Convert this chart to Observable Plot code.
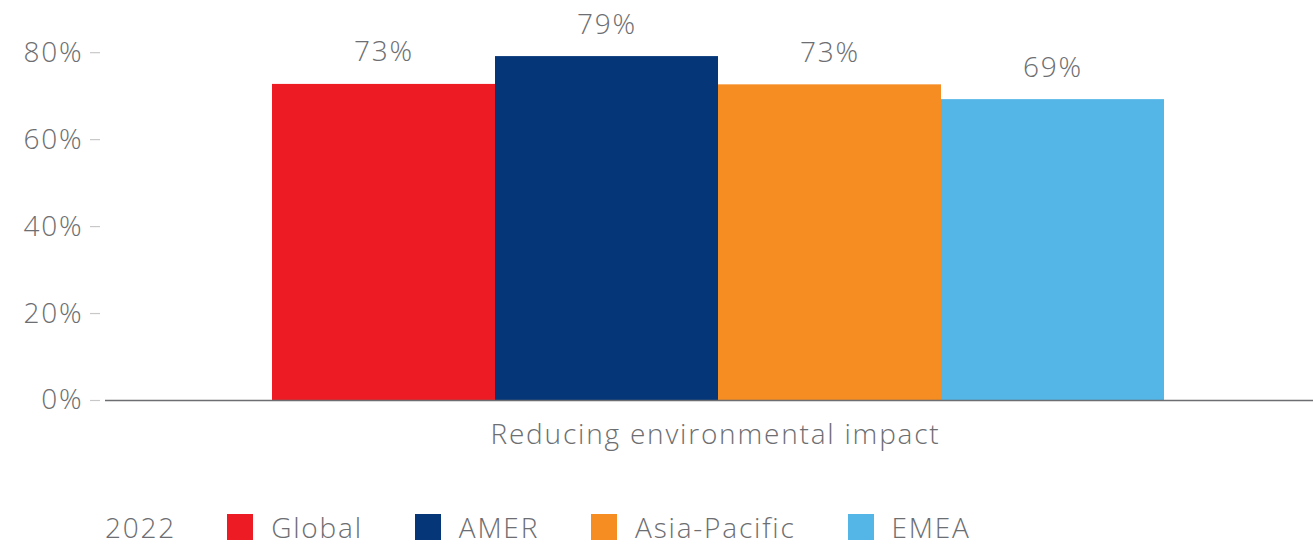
<!DOCTYPE html>
<html>
<head>
<meta charset="utf-8">
<script src="https://cdn.jsdelivr.net/npm/d3@7"></script>
<script src="https://cdn.jsdelivr.net/npm/@observablehq/plot@0.6"></script>
<style>
  html, body { margin: 0; padding: 0; background: #fff; }
  body { width: 1313px; height: 544px; overflow: hidden; font-family: "Open Sans", Lato, sans-serif; color: #6d6e71; }
  #chart svg text { letter-spacing: 1.8px; font-weight: 300; }
  #legend { display: flex; align-items: center; height: 34px; padding-top: 30px; padding-left: 105px; font-size: 28px; font-weight: 300; letter-spacing: 1.8px; color: #6d6e71; }
  #legend .title { margin-right: 51px; }
  #legend .item { display: flex; align-items: center; margin-right: 52px; }
  #legend .sw { width: 26px; height: 26px; margin-right: 18px; }
</style>
</head>
<body>
<div id="chart"></div>
<div id="legend"></div>
<script>
const regions = ["Global", "AMER", "Asia-Pacific", "EMEA"];
const values = [72.7, 79.1, 72.6, 69.2];
const colors = ["#ed1c24", "#053778", "#f58d22", "#53b6e6"];
const category = "Reducing environmental impact";
const yTicks = [0, 20, 40, 60, 80];
const legendTitle = "2022";

const data = regions.map((r, i) => ({region: r, value: values[i]}));
const gray = "#6d6e71";

const chart = Plot.plot({
  width: 1313,
  height: 480,
  marginLeft: 105,
  marginRight: 0,
  marginTop: 0,
  marginBottom: 80,
  style: {fontFamily: "'Open Sans', Lato, sans-serif", fontSize: "28px", color: gray, background: "#fff"},
  x: {domain: regions, paddingInner: 0, paddingOuter: 0.708, align: 0.53, axis: null},
  y: {domain: [0, 92], ticks: yTicks, label: null},
  color: {domain: regions, range: colors},
  marks: [
    Plot.axisY(yTicks, {tickSize: 10, dx: -5, stroke: "#c8c8c8", strokeWidth: 1.2, text: null, label: null}),
    Plot.axisY(yTicks, {tickSize: 0, tickPadding: 22, fill: gray, fontSize: 28, tickFormat: d => d + "%", label: null}),
    Plot.barY(data, {x: "region", y: "value", fill: "region"}),
    Plot.text(data, {x: "region", y: "value", text: d => d3.format(".0f")(d.value) + "%", dy: -32, fill: gray, fontSize: 28}),
    Plot.ruleY([0], {stroke: gray, strokeWidth: 1.5}),
    Plot.text([category], {frameAnchor: "bottom", dy: 43, dx: 6, fill: gray, fontSize: 28})
  ]
});
document.getElementById("chart").appendChild(chart);

const legend = document.getElementById("legend");
const t = document.createElement("span");
t.className = "title";
t.textContent = legendTitle;
legend.appendChild(t);
regions.forEach((r, i) => {
  const item = document.createElement("span");
  item.className = "item";
  const sw = document.createElement("span");
  sw.className = "sw";
  sw.style.background = colors[i];
  const lab = document.createElement("span");
  lab.textContent = r;
  item.appendChild(sw);
  item.appendChild(lab);
  legend.appendChild(item);
});
</script>
</body>
</html>
